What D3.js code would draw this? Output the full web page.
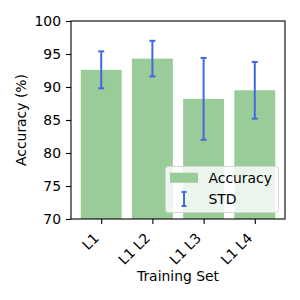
<!DOCTYPE html>
<html>
<head>
<meta charset="utf-8">
<script src="https://cdn.jsdelivr.net/npm/d3@7"></script>
<style>
  body { margin: 0; background: #fff; }
  text { font-family: "DejaVu Sans", sans-serif; }
</style>
</head>
<body>
<script>
// values
const categories = ["L1", "L1 L2", "L1 L3", "L1 L4"];
const accuracy = [92.6, 94.3, 88.2, 89.5];
const std = [2.8, 2.7, 6.2, 4.3];
const yTicks = [70, 75, 80, 85, 90, 95, 100];

const W = 300, H = 300;
const pLeft = 71, pRight = 285, pTop = 21, pBottom = 219;
const fs = 13.9;
const barColor = "rgb(153,204,153)";
const errColor = "#4169e1";

const svg = d3.select("body").append("svg")
    .attr("width", W)
    .attr("height", H);

const x = d3.scaleLinear().domain([-0.59, 3.59]).range([pLeft, pRight]);
const y = d3.scaleLinear().domain([70, 100]).range([pBottom, pTop]);

// bars
svg.append("g").selectAll("rect")
    .data(accuracy)
    .join("rect")
    .attr("x", (d, i) => x(i - 0.4))
    .attr("width", x(0.8) - x(0))
    .attr("y", d => y(d))
    .attr("height", d => y(70) - y(d))
    .attr("fill", barColor);

// error bars
const eb = svg.append("g")
    .attr("stroke", errColor)
    .attr("stroke-width", 2);
accuracy.forEach(function(d, i) {
    const cx = x(i);
    eb.append("line").attr("x1", cx).attr("x2", cx).attr("y1", y(d - std[i])).attr("y2", y(d + std[i]));
    eb.append("line").attr("x1", cx - 3).attr("x2", cx + 3).attr("y1", y(d - std[i])).attr("y2", y(d - std[i]));
    eb.append("line").attr("x1", cx - 3).attr("x2", cx + 3).attr("y1", y(d + std[i])).attr("y2", y(d + std[i]));
});

// frame
svg.append("rect")
    .attr("x", pLeft).attr("y", pTop)
    .attr("width", pRight - pLeft).attr("height", pBottom - pTop)
    .attr("fill", "none").attr("stroke", "#000").attr("stroke-width", 1.1);

// y axis
const yAxis = svg.append("g")
    .attr("transform", `translate(${pLeft},0)`)
    .call(d3.axisLeft(y).tickValues(yTicks).tickSize(5).tickPadding(5));
yAxis.select(".domain").remove();
yAxis.selectAll("line").attr("stroke-width", 1.1);
yAxis.selectAll("text")
    .attr("font-size", fs)
    .attr("font-family", "DejaVu Sans")
    .attr("fill", "#000");

// x axis
const xAxis = svg.append("g")
    .attr("transform", `translate(0,${pBottom})`)
    .call(d3.axisBottom(x).tickValues(d3.range(categories.length)).tickFormat(i => categories[i]).tickSize(5));
xAxis.select(".domain").remove();
xAxis.selectAll("line").attr("stroke-width", 1.1);
xAxis.selectAll("text")
    .attr("y", null)
    .attr("dy", null)
    .attr("text-anchor", "end")
    .attr("transform", "translate(-2,20) rotate(-45)")
    .attr("font-size", fs)
    .attr("font-family", "DejaVu Sans")
    .attr("fill", "#000");

// axis titles
svg.append("text")
    .attr("x", (pLeft + pRight) / 2)
    .attr("y", 281)
    .attr("text-anchor", "middle")
    .attr("font-size", fs)
    .text("Training Set");

svg.append("text")
    .attr("transform", `translate(26,${(pTop + pBottom) / 2}) rotate(-90)`)
    .attr("text-anchor", "middle")
    .attr("font-size", fs)
    .text("Accuracy (%)");

// legend
const lg = svg.append("g");
lg.append("rect")
    .attr("x", 165.5).attr("y", 166.5)
    .attr("width", 113).attr("height", 46)
    .attr("rx", 3)
    .attr("fill", "rgba(255,255,255,0.8)")
    .attr("stroke", "#d6d6d6");
lg.append("rect")
    .attr("x", 170).attr("y", 172.7)
    .attr("width", 28).attr("height", 10)
    .attr("fill", barColor);
lg.append("text")
    .attr("x", 208.5).attr("y", 182.8)
    .attr("font-size", fs)
    .text("Accuracy");
const mk = lg.append("g").attr("stroke", errColor).attr("stroke-width", 2);
mk.append("line").attr("x1", 184).attr("x2", 184).attr("y1", 192).attr("y2", 206);
mk.append("line").attr("x1", 181.5).attr("x2", 186.5).attr("y1", 192).attr("y2", 192);
mk.append("line").attr("x1", 181.5).attr("x2", 186.5).attr("y1", 206).attr("y2", 206);
lg.append("text")
    .attr("x", 208.5).attr("y", 204)
    .attr("font-size", fs)
    .text("STD");
</script>
</body>
</html>
